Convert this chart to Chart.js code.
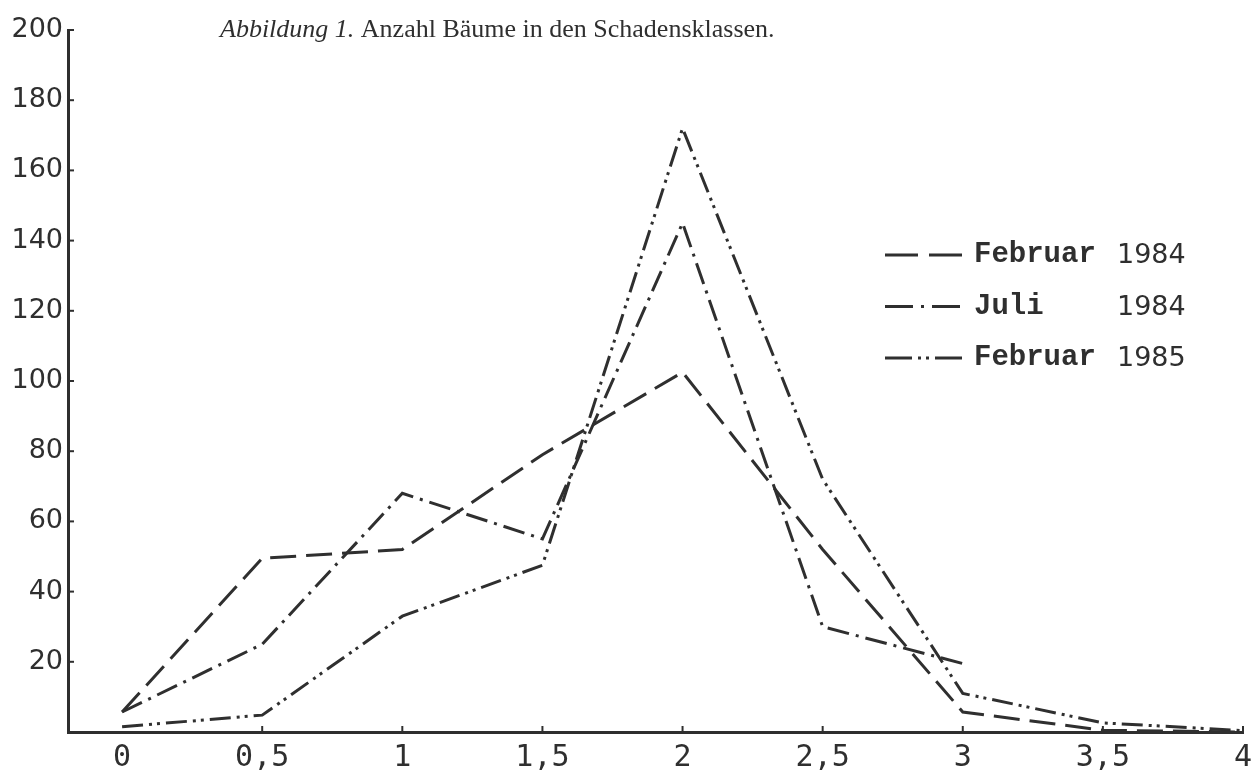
<!DOCTYPE html>
<html lang="de">
<head>
  <meta charset="UTF-8">
  <title>Abbildung 1</title>
  <script src="https://cdn.jsdelivr.net/npm/chart.js"></script>
  <style>
    html, body { margin: 0; padding: 0; background: #fff; }
    .wrap { width: 1252px; height: 776px; }
  </style>
</head>
<body>
  <div class="wrap"><canvas id="chart" width="1252" height="776"></canvas></div>
  <script>
    // Schadensklassen (x) and tree counts per survey
    const classes = [0, 0.5, 1, 1.5, 2, 2.5, 3, 3.5, 4];
    const feb1984 = [5.7, 49.5, 52, 79, 102.5, 52, 5.7, 0.5, 0];
    const juli1984 = [5.7, 25, 68, 55, 145, 30, 19.5, null, null];
    const feb1985 = [1.5, 4.8, 33, 47.5, 172, 72, 11, 2.6, 0.4];
    const yTicks = [0, 20, 40, 60, 80, 100, 120, 140, 160, 180, 200];
    const legendNames = ['Februar', 'Juli', 'Februar'];
    const legendYears = ['1984', '1984', '1985'];

    const ink = '#2f2f2f';
    // dash patterns of the short legend samples
    const legendDash = [[33, 11], [28, 8, 3, 8], [27, 6, 3, 5, 3, 6]];

    function toPoints(vals) {
      const pts = [];
      vals.forEach((v, i) => { if (v !== null) pts.push({ x: classes[i], y: v }); });
      return pts;
    }

    // title above the plot
    const titlePlugin = {
      id: 'titleText',
      afterDraw(chart) {
        const ctx = chart.ctx;
        ctx.save();
        ctx.fillStyle = ink;
        ctx.textBaseline = 'alphabetic';
        ctx.font = 'italic 26px "Liberation Serif"';
        const a = 'Abbildung 1.';
        ctx.fillText(a, 220, 37);
        const w = ctx.measureText(a + ' ').width;
        ctx.font = '26px "Liberation Serif"';
        ctx.fillText('Anzahl Bäume in den Schadensklassen.', 220 + w, 37);
        ctx.restore();
      }
    };

    // small tick marks on the inside of both axes
    const innerTicks = {
      id: 'innerTicks',
      afterDraw(chart) {
        const ctx = chart.ctx;
        const xs = chart.scales.x, ys = chart.scales.y;
        ctx.save();
        ctx.strokeStyle = ink;
        ctx.lineWidth = 2;
        ys.ticks.forEach(t => {
          if (t.value === 0) return;
          const py = ys.getPixelForValue(t.value);
          ctx.beginPath();
          ctx.moveTo(xs.left, py);
          ctx.lineTo(xs.left + 6, py);
          ctx.stroke();
        });
        xs.ticks.forEach(t => {
          if (t.value === 0) return;
          const px = xs.getPixelForValue(t.value);
          ctx.beginPath();
          ctx.moveTo(px, ys.bottom);
          ctx.lineTo(px, ys.bottom - 6);
          ctx.stroke();
        });
        ctx.restore();
      }
    };

    // legend drawn in the right part of the plot
    const legendPlugin = {
      id: 'sideLegend',
      afterDraw(chart) {
        const ctx = chart.ctx;
        ctx.save();
        chart.data.datasets.forEach((ds, i) => {
          const y = 255 + i * 51.5;
          ctx.strokeStyle = ink;
          ctx.lineWidth = 3;
          ctx.setLineDash(legendDash[i]);
          ctx.beginPath();
          ctx.moveTo(885, y);
          ctx.lineTo(962, y);
          ctx.stroke();
          ctx.setLineDash([]);
          ctx.fillStyle = ink;
          ctx.textBaseline = 'middle';
          ctx.font = 'bold 29px "Liberation Mono"';
          ctx.fillText(legendNames[i], 974, y);
          ctx.font = '27px "DejaVu Sans"';
          ctx.fillText(legendYears[i], 1117, y + 1);
        });
        ctx.restore();
      }
    };

    const lineStyle = {
      borderColor: ink,
      borderWidth: 3,
      pointRadius: 0,
      tension: 0,
      fill: false
    };

    new Chart(document.getElementById('chart'), {
      type: 'line',
      data: {
        datasets: [
          Object.assign({ label: 'Februar 1984', data: toPoints(feb1984), borderDash: [26, 10] }, lineStyle),
          Object.assign({ label: 'Juli 1984', data: toPoints(juli1984), borderDash: [22, 7, 3, 7] }, lineStyle),
          Object.assign({ label: 'Februar 1985', data: toPoints(feb1985), borderDash: [21, 6, 3, 5, 3, 6] }, lineStyle)
        ]
      },
      options: {
        responsive: false,
        animation: false,
        layout: { padding: { top: 30, right: 0, left: 0, bottom: 0 } },
        plugins: {
          legend: { display: false },
          title: { display: false },
          tooltip: { enabled: false }
        },
        scales: {
          x: {
            type: 'linear',
            min: -0.193,
            max: 4,
            afterFit(scale) {
              scale.height = 44;
              scale.paddingRight = 9;
            },
            afterBuildTicks(scale) { scale.ticks = classes.map(v => ({ value: v })); },
            grid: { display: false, drawTicks: false },
            border: { display: true, color: ink, width: 3 },
            ticks: {
              color: ink,
              padding: 8,
              maxRotation: 0,
              font: { family: '"DejaVu Sans Mono"', size: 30 },
              callback: v => String(v).replace('.', ',')
            }
          },
          y: {
            min: 0,
            max: 200,
            afterFit(scale) { scale.width = 68; },
            afterBuildTicks(scale) { scale.ticks = yTicks.map(v => ({ value: v })); },
            grid: { display: false, drawTicks: false },
            border: { display: true, color: ink, width: 3 },
            ticks: {
              color: ink,
              padding: 5,
              font: { family: '"DejaVu Sans"', size: 27 },
              callback: v => (v === 0 ? '' : String(v))
            }
          }
        }
      },
      plugins: [titlePlugin, innerTicks, legendPlugin]
    });
  </script>
</body>
</html>
